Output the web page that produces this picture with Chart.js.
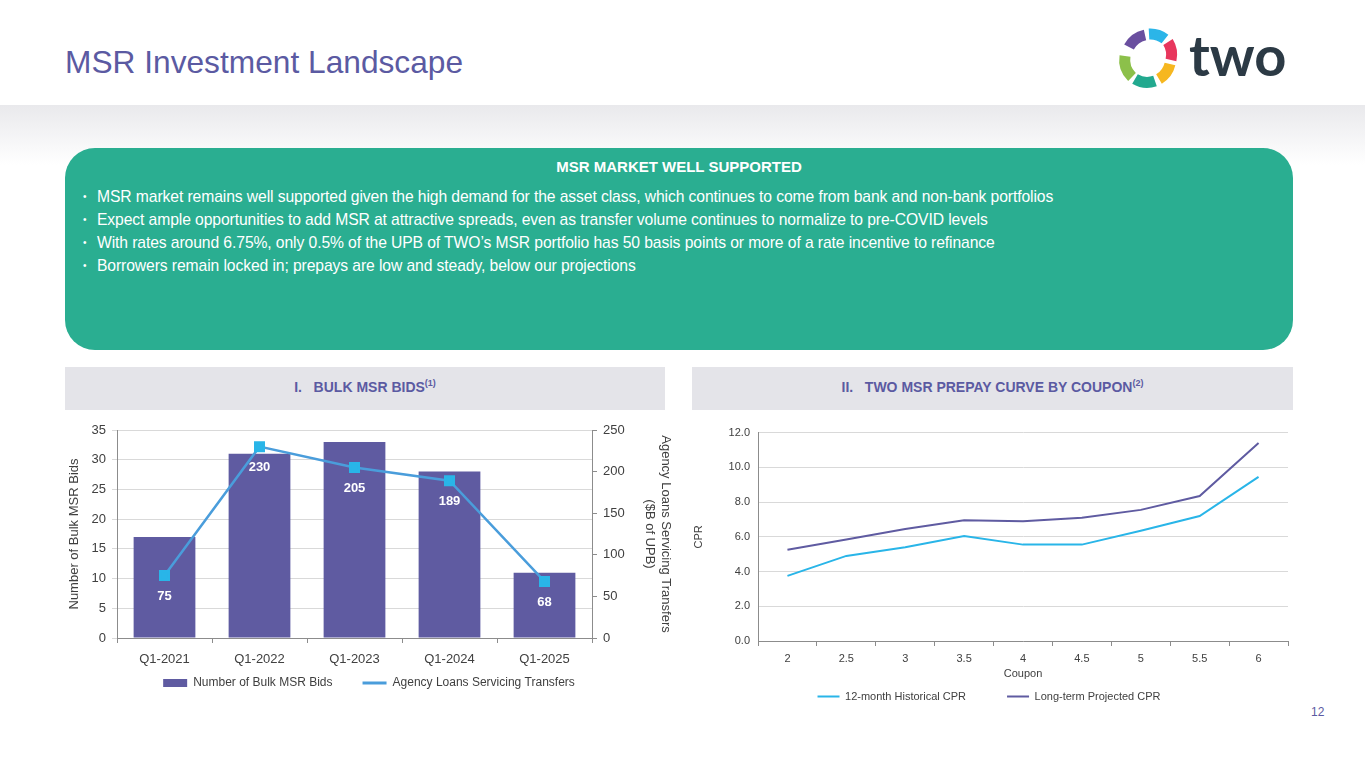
<!DOCTYPE html>
<html>
<head>
<meta charset="utf-8">
<script src="https://cdn.jsdelivr.net/npm/chart.js@4/dist/chart.umd.min.js"></script>
<style>
  body { margin: 0; width: 1365px; height: 768px; background: #fff; position: relative; overflow: hidden; font-family: "Liberation Sans", Arial, sans-serif; }
  #title { position: absolute; left: 65px; top: 44px; font-size: 31.7px; color: #5b5aa2; }
  #band { position: absolute; left: 0; top: 105px; width: 1365px; height: 60px; background: linear-gradient(#e9e9ec, #fff); }
  #box { position: absolute; left: 65px; top: 148px; width: 1228px; height: 202px; background: #2aae91; border-radius: 30px; color: #fff; }
  #box h2 { margin: 0; position: absolute; top: 10px; width: 100%; text-align: center; font-size: 15px; font-weight: bold; }
  #box ul { margin: 0; padding: 0; list-style: none; position: absolute; left: 18px; top: 40px; font-size: 15.7px; letter-spacing: -0.1px; }
  #box li { height: 23px; }
  #box li span { display: inline-block; width: 14px; font-size: 10px; vertical-align: 2px; }
  .sec { position: absolute; top: 367px; height: 43px; background: #e4e4e9; color: #5b5aa2; font-weight: bold; font-size: 14px; text-align: center; line-height: 32px; }
  .sec sup { font-size: 9px; }
  #page { position: absolute; left: 1311px; top: 705px; font-size: 12px; color: #5b5aa2; }
  canvas { position: absolute; }
</style>
</head>
<body>
<div id="title">MSR Investment Landscape</div>
<svg style="position:absolute;left:1105px;top:20px" width="200" height="70">
  <g fill="none" stroke-width="11" stroke-linecap="butt">
    <path d="M 24 27 A 24 24 0 0 1 40 15" stroke="#6a4f9f"/>
    <path d="M 44 14 A 24 24 0 0 1 60 19" stroke="#2bb5e8"/>
    <path d="M 63 22 A 24 24 0 0 1 66 40" stroke="#e8365d"/>
    <path d="M 65 44 A 24 24 0 0 1 54 59" stroke="#f6b720"/>
    <path d="M 50 61 A 24 24 0 0 1 30 59" stroke="#22a98f"/>
    <path d="M 27 57 A 24 24 0 0 1 20 36" stroke="#8cc04a"/>
  </g>
  <text x="84" y="56" font-family="Lato, sans-serif" font-weight="bold" font-size="56" fill="#2c3a45">two</text>
</svg>
<div id="band"></div>
<div id="box">
  <h2>MSR MARKET WELL SUPPORTED</h2>
  <ul>
    <li><span>•</span>MSR market remains well supported given the high demand for the asset class, which continues to come from bank and non-bank portfolios</li>
    <li><span>•</span>Expect ample opportunities to add MSR at attractive spreads, even as transfer volume continues to normalize to pre-COVID levels</li>
    <li><span>•</span>With rates around 6.75%, only 0.5% of the UPB of TWO’s MSR portfolio has 50 basis points or more of a rate incentive to refinance</li>
    <li><span>•</span>Borrowers remain locked in; prepays are low and steady, below our projections</li>
  </ul>
</div>
<div class="sec" style="left:65px;width:600px">I.&nbsp;&nbsp;&nbsp;BULK MSR BIDS<sup>(1)</sup></div>
<div class="sec" style="left:692px;width:601px">II.&nbsp;&nbsp;&nbsp;TWO MSR PREPAY CURVE BY COUPON<sup>(2)</sup></div>
<canvas id="bids" width="630" height="284" style="left:55px;top:415px"></canvas>
<canvas id="prepay" width="610" height="294" style="left:690px;top:418px"></canvas>
<div id="page">12</div>
<script>
// bulk MSR bids
const quarters = ['Q1-2021', 'Q1-2022', 'Q1-2023', 'Q1-2024', 'Q1-2025'];
const bulkBids = [17, 31, 33, 28, 11];
const transfers = [75, 230, 205, 189, 68];

// prepay curve
const coupons = ['2', '2.5', '3', '3.5', '4', '4.5', '5', '5.5', '6'];
const historicalCpr = [3.75, 4.9, 5.4, 6.05, 5.55, 5.55, 6.35, 7.2, 9.45];
const projectedCpr = [5.25, 5.85, 6.45, 6.95, 6.9, 7.1, 7.55, 8.35, 11.4];

const purple = '#5f5ba1';
const cyan = '#29b5e8';
const tickColor = '#404040';
const gridColor = '#d9d9d9';
const axisColor = '#8c8c8c';
const gap = '\u2003\u2003';

Chart.defaults.font.family = '"Liberation Sans", Arial, sans-serif';
Chart.defaults.color = tickColor;

// white value labels under the transfer points
const valueLabels = {
  id: 'valueLabels',
  afterDatasetsDraw(chart) {
    const ctx = chart.ctx;
    const meta = chart.getDatasetMeta(1);
    ctx.save();
    ctx.fillStyle = '#fff';
    ctx.font = 'bold 13px "Liberation Sans", Arial, sans-serif';
    ctx.textAlign = 'center';
    ctx.textBaseline = 'middle';
    meta.data.forEach((pt, i) => {
      ctx.fillText(transfers[i], pt.x, pt.y + 21);
    });
    ctx.restore();
  }
};

new Chart(document.getElementById('bids'), {
  data: {
    labels: quarters,
    datasets: [
      {
        type: 'bar',
        label: 'Number of Bulk MSR Bids',
        data: bulkBids,
        backgroundColor: purple,
        barPercentage: 0.65,
        categoryPercentage: 1,
        yAxisID: 'y',
        order: 2
      },
      {
        type: 'line',
        label: 'Agency Loans Servicing Transfers',
        data: transfers,
        borderColor: '#4a9ddb',
        borderWidth: 2.5,
        backgroundColor: cyan,
        pointStyle: 'rect',
        pointRadius: 6,
        pointBackgroundColor: cyan,
        pointBorderColor: cyan,
        yAxisID: 'y1',
        order: 1
      }
    ]
  },
  options: {
    responsive: false,
    animation: false,
    layout: { padding: { top: 15, left: 10, right: 12, bottom: 0 } },
    plugins: {
      tooltip: { enabled: false },
      legend: {
        position: 'bottom',
        labels: {
          usePointStyle: true,
          pointStyleWidth: 24,
          boxHeight: 8,
          padding: 6,
          font: { size: 12 },
          generateLabels(chart) {
            const items = Chart.defaults.plugins.legend.labels.generateLabels(chart);
            items.sort((a, b) => a.datasetIndex - b.datasetIndex);
            items[0].pointStyle = 'rect';
            items[0].text += gap;
            items[1].pointStyle = 'line';
            items[1].lineWidth = 3;
            items[1].strokeStyle = '#4a9ddb';
            return items;
          }
        }
      }
    },
    scales: {
      x: {
        offset: true,
        grid: { offset: true, drawOnChartArea: false, tickLength: 5, color: axisColor },
        border: { color: axisColor },
        ticks: { font: { size: 13 }, padding: 9 },
        afterFit(s) { s.height = 33; }
      },
      y: {
        position: 'left',
        min: 0, max: 35,
        ticks: { stepSize: 5, font: { size: 13 }, padding: 6 },
        grid: { color: gridColor, tickLength: 5 },
        border: { color: axisColor },
        title: { display: true, text: 'Number of Bulk MSR Bids', font: { size: 13 }, padding: 2 },
        afterFit(s) { s.width = 52; }
      },
      y1: {
        position: 'right',
        min: 0, max: 250,
        ticks: { stepSize: 50, font: { size: 13 }, padding: 6 },
        grid: { drawOnChartArea: false, tickLength: 5, color: axisColor },
        border: { color: axisColor },
        title: { display: true, text: ['Agency Loans Servicing Transfers', '($B of UPB)'], font: { size: 13 }, padding: 0 },
        afterFit(s) { s.width = 81; }
      }
    }
  },
  plugins: [valueLabels]
});

new Chart(document.getElementById('prepay'), {
  type: 'line',
  data: {
    labels: coupons,
    datasets: [
      {
        label: '12-month Historical CPR',
        data: historicalCpr,
        borderColor: cyan,
        backgroundColor: cyan,
        borderWidth: 2,
        pointRadius: 0,
        pointStyle: 'line'
      },
      {
        label: 'Long-term Projected CPR',
        data: projectedCpr,
        borderColor: purple,
        backgroundColor: purple,
        borderWidth: 2,
        pointRadius: 0,
        pointStyle: 'line'
      }
    ]
  },
  options: {
    responsive: false,
    animation: false,
    layout: { padding: { top: 13, left: 0, right: 12, bottom: 0 } },
    plugins: {
      tooltip: { enabled: false },
      legend: {
        position: 'bottom',
        labels: {
          usePointStyle: true,
          pointStyleWidth: 22,
          padding: 8,
          font: { size: 11 },
          generateLabels(chart) {
            const items = Chart.defaults.plugins.legend.labels.generateLabels(chart);
            items[0].text += gap + '\u2003';
            return items;
          }
        }
      }
    },
    scales: {
      x: {
        offset: true,
        grid: { offset: true, drawOnChartArea: false, tickLength: 5, color: axisColor },
        border: { color: axisColor },
        ticks: { font: { size: 11 }, padding: 6 },
        title: { display: true, text: 'Coupon', font: { size: 11 }, padding: { top: 6, bottom: 2 } },
        afterFit(s) { s.height = 42; }
      },
      y: {
        min: 0, max: 12,
        ticks: { stepSize: 2, font: { size: 11 }, padding: 8, callback: v => v.toFixed(1) },
        grid: { color: gridColor, drawTicks: false },
        border: { color: axisColor },
        title: { display: true, text: 'CPR', font: { size: 11 }, padding: 2 },
        afterFit(s) { s.width = 68; }
      }
    }
  }
});
</script>
</body>
</html>
